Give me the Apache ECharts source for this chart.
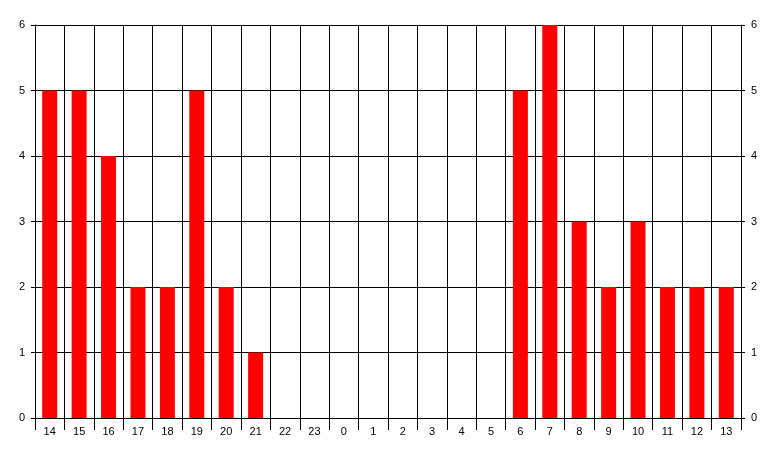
<!DOCTYPE html>
<html>
<head>
<meta charset="utf-8">
<script src="https://cdn.jsdelivr.net/npm/echarts@6/dist/echarts.min.js"></script>
<style>html,body{margin:0;padding:0;background:#fff;}#c{width:777px;height:457px;}</style>
</head>
<body>
<div id="c"></div>
<script>
var categories = ['14','15','16','17','18','19','20','21','22','23','0','1','2','3','4','5','6','7','8','9','10','11','12','13'];
var values = [5,5,4,2,2,5,2,1,0,0,0,0,0,0,0,0,5,6,3,2,3,2,2,2];
var yTicks = [0,1,2,3,4,5,6];

var chart = echarts.init(document.getElementById('c'), null, {renderer:'canvas'});
var font = {fontFamily:'Liberation Sans, Arial, sans-serif', fontSize:11, color:'#000'};
function yAxis(pos){
  return {
    type:'value', position:pos, min:yTicks[0], max:yTicks[yTicks.length-1], interval:1,
    axisLine:{show:true, lineStyle:{color:'#000', width:1}},
    axisTick:{show:true, length:4, lineStyle:{color:'#000'}},
    axisLabel:Object.assign({margin:10}, font),
    splitLine:{show: pos==='left', lineStyle:{color:'#000', width:1}}
  };
}
chart.setOption({
  animation:false,
  backgroundColor:'#fff',
  grid:{left:35, right:36, top:25, bottom:39, containLabel:false},
  xAxis:{
    type:'category', data:categories, boundaryGap:true,
    axisLine:{show:true, lineStyle:{color:'#000', width:1}},
    axisTick:{show:true, length:12, interval:0, lineStyle:{color:'#000'}},
    axisLabel:Object.assign({margin:8, interval:0}, font),
    splitLine:{show:true, interval:0, lineStyle:{color:'#000', width:1}}
  },
  yAxis:[yAxis('left'), yAxis('right')],
  series:[{
    type:'bar', data:values, barWidth:15, yAxisIndex:0,
    itemStyle:{color:'#ff0000'}
  }]
});
</script>
</body>
</html>
